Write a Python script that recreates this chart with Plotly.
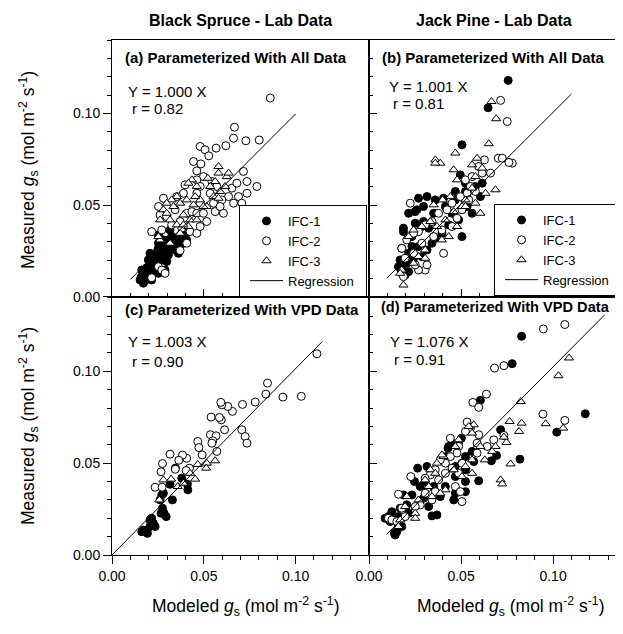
import plotly.graph_objects as go

# ---- data: (modeled gs, measured gs) pairs ----
# (a) Black spruce, parameterized with all data
a_ifc1 = [(0.0153, 0.0093), (0.0171, 0.0075), (0.0180, 0.0129), (0.0198, 0.0147), (0.0207, 0.0184),
          (0.0225, 0.0202), (0.0244, 0.0220), (0.0235, 0.0165), (0.0262, 0.0238), (0.0280, 0.0256),
          (0.0298, 0.0265), (0.0316, 0.0284), (0.0335, 0.0293), (0.0353, 0.0311), (0.0380, 0.0329),
          (0.0398, 0.0347), (0.0416, 0.0356), (0.0371, 0.0275), (0.0344, 0.0256), (0.0307, 0.0229),
          (0.0271, 0.0202), (0.0253, 0.0293), (0.0280, 0.0311), (0.0307, 0.0311), (0.0225, 0.0129),
          (0.0189, 0.0111), (0.0162, 0.0147), (0.0207, 0.0238), (0.0325, 0.0329), (0.0362, 0.0238),
          (0.0389, 0.0293), (0.0289, 0.0147), (0.0253, 0.0129), (0.0216, 0.0093), (0.0407, 0.0311),
          (0.0298, 0.0193), (0.0198, 0.0202), (0.0253, 0.0338), (0.0316, 0.0365), (0.0160, 0.0110),
          (0.0180, 0.0090), (0.0200, 0.0120), (0.0220, 0.0160), (0.0240, 0.0180), (0.0260, 0.0200),
          (0.0270, 0.0240), (0.0290, 0.0230), (0.0310, 0.0260), (0.0330, 0.0270), (0.0350, 0.0290),
          (0.0370, 0.0310), (0.0390, 0.0320), (0.0230, 0.0230), (0.0250, 0.0260), (0.0290, 0.0280),
          (0.0170, 0.0130), (0.0190, 0.0160), (0.0210, 0.0140), (0.0240, 0.0150)]
a_ifc2 = [(0.0862, 0.1084), (0.0667, 0.0925), (0.0662, 0.0865), (0.0729, 0.0851), (0.0802, 0.0855),
          (0.0620, 0.0824), (0.0567, 0.0811), (0.0480, 0.0820), (0.0507, 0.0802), (0.0527, 0.0769),
          (0.0444, 0.0738), (0.0484, 0.0725), (0.0716, 0.0684), (0.0462, 0.0687), (0.0498, 0.0656),
          (0.0462, 0.0638), (0.0398, 0.0611), (0.0480, 0.0602), (0.0544, 0.0629), (0.0571, 0.0602),
          (0.0535, 0.0565), (0.0462, 0.0565), (0.0653, 0.0593), (0.0680, 0.0620), (0.0735, 0.0629),
          (0.0789, 0.0602), (0.0735, 0.0565), (0.0689, 0.0547), (0.0635, 0.0547), (0.0598, 0.0529),
          (0.0662, 0.0511), (0.0707, 0.0511), (0.0553, 0.0511), (0.0480, 0.0511), (0.0389, 0.0565),
          (0.0353, 0.0547), (0.0280, 0.0538), (0.0253, 0.0493), (0.0262, 0.0447), (0.0298, 0.0438),
          (0.0325, 0.0393), (0.0371, 0.0411), (0.0344, 0.0475), (0.0407, 0.0456), (0.0435, 0.0465),
          (0.0462, 0.0456), (0.0498, 0.0456), (0.0516, 0.0411), (0.0562, 0.0465), (0.0607, 0.0456),
          (0.0589, 0.0493), (0.0216, 0.0356), (0.0271, 0.0365), (0.0380, 0.0375), (0.0425, 0.0356),
          (0.0462, 0.0347), (0.0480, 0.0384), (0.0371, 0.0253), (0.0407, 0.0293), (0.0253, 0.0165),
          (0.0271, 0.0147), (0.0289, 0.0129), (0.0216, 0.0105)]
a_ifc3 = [(0.0580, 0.0711), (0.0522, 0.0647), (0.0580, 0.0675), (0.0562, 0.0629), (0.0625, 0.0656),
          (0.0635, 0.0675), (0.0435, 0.0638), (0.0416, 0.0620), (0.0462, 0.0602), (0.0353, 0.0547),
          (0.0325, 0.0529), (0.0298, 0.0511), (0.0371, 0.0511), (0.0335, 0.0493), (0.0280, 0.0475),
          (0.0407, 0.0529), (0.0480, 0.0529), (0.0444, 0.0502), (0.0516, 0.0493), (0.0553, 0.0547),
          (0.0589, 0.0575), (0.0535, 0.0602), (0.0616, 0.0602), (0.0298, 0.0456), (0.0262, 0.0420),
          (0.0316, 0.0420), (0.0353, 0.0393), (0.0389, 0.0447), (0.0425, 0.0420), (0.0462, 0.0420),
          (0.0498, 0.0493), (0.0453, 0.0547), (0.0262, 0.0311), (0.0316, 0.0293), (0.0371, 0.0347),
          (0.0416, 0.0384), (0.0389, 0.0393), (0.0580, 0.0538), (0.0253, 0.0329)]

# (b) Jack pine, parameterized with all data
b_ifc1 = [(0.0756, 0.1180), (0.0647, 0.1031), (0.0505, 0.0829), (0.0496, 0.0665), (0.0505, 0.0329),
          (0.0524, 0.0575), (0.0469, 0.0529), (0.0405, 0.0538), (0.0360, 0.0529), (0.0315, 0.0547),
          (0.0269, 0.0538), (0.0260, 0.0475), (0.0250, 0.0465), (0.0296, 0.0493), (0.0215, 0.0456),
          (0.0187, 0.0375), (0.0187, 0.0356), (0.0251, 0.0402), (0.0287, 0.0384), (0.0233, 0.0329),
          (0.0269, 0.0275), (0.0215, 0.0238), (0.0178, 0.0265), (0.0169, 0.0202), (0.0205, 0.0184),
          (0.0178, 0.0147), (0.0215, 0.0138), (0.0196, 0.0120), (0.0242, 0.0211), (0.0287, 0.0220),
          (0.0315, 0.0256), (0.0342, 0.0293), (0.0396, 0.0347), (0.0433, 0.0393), (0.0451, 0.0456),
          (0.0487, 0.0420), (0.0533, 0.0493), (0.0560, 0.0456), (0.0524, 0.0620), (0.0469, 0.0575),
          (0.0615, 0.0620), (0.0605, 0.0547), (0.0578, 0.0602), (0.0415, 0.0493), (0.0351, 0.0456),
          (0.0296, 0.0411), (0.0324, 0.0375), (0.0360, 0.0320), (0.0233, 0.0275), (0.0160, 0.0165),
          (0.0196, 0.0184)]
b_ifc2 = [(0.0715, 0.1071), (0.0751, 0.0956), (0.0702, 0.0756), (0.0724, 0.0756), (0.0778, 0.0729),
          (0.0760, 0.0733), (0.0660, 0.0675), (0.0627, 0.0747), (0.0224, 0.0511), (0.0405, 0.0238),
          (0.0305, 0.0147), (0.0315, 0.0175), (0.0269, 0.0147), (0.0178, 0.0129), (0.0187, 0.0111),
          (0.0524, 0.0638), (0.0560, 0.0656), (0.0551, 0.0602), (0.0533, 0.0565), (0.0578, 0.0575),
          (0.0615, 0.0675), (0.0596, 0.0711), (0.0496, 0.0547), (0.0451, 0.0511), (0.0424, 0.0475),
          (0.0378, 0.0456), (0.0342, 0.0411), (0.0305, 0.0393), (0.0269, 0.0356), (0.0242, 0.0347),
          (0.0205, 0.0311), (0.0178, 0.0265), (0.0242, 0.0238), (0.0287, 0.0293), (0.0351, 0.0329),
          (0.0396, 0.0365), (0.0451, 0.0384), (0.0478, 0.0429), (0.0505, 0.0475), (0.0542, 0.0529),
          (0.0196, 0.0211), (0.0251, 0.0175)]
b_ifc3 = [(0.0360, 0.0747), (0.0387, 0.0729), (0.0360, 0.0729), (0.0469, 0.0784), (0.0460, 0.0693),
          (0.0587, 0.0756), (0.0651, 0.0835), (0.0665, 0.1065), (0.0691, 0.0971), (0.0560, 0.0720),
          (0.0615, 0.0702), (0.0687, 0.0584), (0.0633, 0.0565), (0.0605, 0.0456), (0.0578, 0.0511),
          (0.0524, 0.0529), (0.0478, 0.0638), (0.0442, 0.0547), (0.0400, 0.0529), (0.0351, 0.0502),
          (0.0333, 0.0411), (0.0287, 0.0384), (0.0242, 0.0365), (0.0215, 0.0329), (0.0369, 0.0384),
          (0.0415, 0.0420), (0.0460, 0.0465), (0.0505, 0.0493), (0.0433, 0.0329), (0.0396, 0.0311),
          (0.0305, 0.0256), (0.0269, 0.0220), (0.0305, 0.0211), (0.0242, 0.0184), (0.0178, 0.0147),
          (0.0169, 0.0129), (0.0187, 0.0065), (0.0560, 0.0593), (0.0524, 0.0493), (0.0478, 0.0384),
          (0.0578, 0.0656)]

# (c) Black spruce, parameterized with VPD data
c_ifc1 = [(0.0171, 0.0136), (0.0193, 0.0118), (0.0207, 0.0155), (0.0216, 0.0200), (0.0225, 0.0173),
          (0.0235, 0.0155), (0.0207, 0.0191), (0.0189, 0.0136), (0.0271, 0.0327), (0.0280, 0.0336),
          (0.0262, 0.0300), (0.0275, 0.0255), (0.0284, 0.0227), (0.0295, 0.0209), (0.0267, 0.0227),
          (0.0329, 0.0300), (0.0316, 0.0385), (0.0380, 0.0418), (0.0345, 0.0473), (0.0411, 0.0385),
          (0.0413, 0.0355), (0.0162, 0.0127)]
c_ifc2 = [(0.1116, 0.1096), (0.1031, 0.0864), (0.0931, 0.0860), (0.0847, 0.0936), (0.0838, 0.0876),
          (0.0780, 0.0833), (0.0711, 0.0820), (0.0656, 0.0782), (0.0631, 0.0809), (0.0598, 0.0818),
          (0.0593, 0.0831), (0.0595, 0.0736), (0.0585, 0.0749), (0.0540, 0.0751), (0.0613, 0.0682),
          (0.0707, 0.0682), (0.0725, 0.0645), (0.0735, 0.0609), (0.0536, 0.0655), (0.0567, 0.0649),
          (0.0549, 0.0622), (0.0544, 0.0609), (0.0571, 0.0564), (0.0467, 0.0618), (0.0473, 0.0585),
          (0.0491, 0.0545), (0.0407, 0.0527), (0.0384, 0.0544), (0.0364, 0.0516), (0.0345, 0.0467),
          (0.0316, 0.0549), (0.0275, 0.0498), (0.0267, 0.0453), (0.0235, 0.0369), (0.0273, 0.0369),
          (0.0422, 0.0473), (0.0404, 0.0460)]
c_ifc3 = [(0.0258, 0.0300), (0.0280, 0.0409), (0.0322, 0.0413), (0.0358, 0.0373), (0.0389, 0.0391),
          (0.0425, 0.0445), (0.0453, 0.0413), (0.0467, 0.0493), (0.0516, 0.0500), (0.0513, 0.0473),
          (0.0562, 0.0513)]

# (d) Jack pine, parameterized with VPD data
d_ifc1 = [(0.0829, 0.1191), (0.0778, 0.1042), (0.0605, 0.0842), (0.0715, 0.0682), (0.0820, 0.0522),
          (0.1020, 0.0669), (0.1175, 0.0769), (0.0596, 0.0404), (0.0693, 0.0542), (0.0665, 0.0513),
          (0.0502, 0.0636), (0.0487, 0.0609), (0.0429, 0.0582), (0.0420, 0.0536), (0.0469, 0.0482),
          (0.0524, 0.0536), (0.0560, 0.0564), (0.0569, 0.0509), (0.0524, 0.0464), (0.0469, 0.0427),
          (0.0524, 0.0400), (0.0524, 0.0345), (0.0460, 0.0300), (0.0469, 0.0336), (0.0415, 0.0373),
          (0.0387, 0.0318), (0.0369, 0.0218), (0.0342, 0.0213), (0.0324, 0.0264), (0.0296, 0.0309),
          (0.0315, 0.0482), (0.0264, 0.0473), (0.0247, 0.0400), (0.0233, 0.0327), (0.0187, 0.0327),
          (0.0205, 0.0273), (0.0169, 0.0255), (0.0215, 0.0227), (0.0160, 0.0209), (0.0124, 0.0236),
          (0.0115, 0.0182), (0.0133, 0.0191), (0.0138, 0.0118), (0.0142, 0.0109), (0.0151, 0.0127),
          (0.0160, 0.0164), (0.0178, 0.0155), (0.0105, 0.0209), (0.0087, 0.0200), (0.0451, 0.0609),
          (0.0433, 0.0591), (0.0351, 0.0373), (0.0305, 0.0400), (0.0278, 0.0373)]
d_ifc2 = [(0.1064, 0.1255), (0.0947, 0.1231), (0.0733, 0.1031), (0.0682, 0.1018), (0.0638, 0.0876),
          (0.0564, 0.0831), (0.0596, 0.0804), (0.0945, 0.0767), (0.1064, 0.0733), (0.0733, 0.0651),
          (0.0505, 0.0291), (0.0160, 0.0331), (0.0105, 0.0200), (0.0227, 0.0427), (0.0533, 0.0724),
          (0.0551, 0.0691), (0.0596, 0.0655), (0.0587, 0.0609), (0.0524, 0.0673), (0.0487, 0.0591),
          (0.0478, 0.0555), (0.0442, 0.0536), (0.0415, 0.0500), (0.0387, 0.0518), (0.0360, 0.0464),
          (0.0333, 0.0436), (0.0305, 0.0418), (0.0378, 0.0409), (0.0415, 0.0445), (0.0451, 0.0473),
          (0.0505, 0.0500), (0.0487, 0.0445), (0.0469, 0.0373), (0.0496, 0.0345), (0.0360, 0.0345),
          (0.0305, 0.0336), (0.0342, 0.0300), (0.0278, 0.0273), (0.0251, 0.0264), (0.0196, 0.0209),
          (0.0178, 0.0255), (0.0124, 0.0191), (0.0151, 0.0182), (0.0678, 0.0627), (0.0642, 0.0591),
          (0.0587, 0.0555), (0.0442, 0.0636)]
d_ifc3 = [(0.1087, 0.1073), (0.1029, 0.0976), (0.0824, 0.0836), (0.0764, 0.0727), (0.0829, 0.0718),
          (0.0815, 0.0673), (0.0960, 0.0715), (0.1055, 0.0691), (0.0769, 0.0496), (0.0715, 0.0409),
          (0.0724, 0.0387), (0.0747, 0.0613), (0.0733, 0.0642), (0.0687, 0.0591), (0.0669, 0.0564),
          (0.0629, 0.0518), (0.0569, 0.0709), (0.0542, 0.0700), (0.0560, 0.0664), (0.0605, 0.0591),
          (0.0560, 0.0518), (0.0524, 0.0482), (0.0560, 0.0445), (0.0505, 0.0427), (0.0460, 0.0464),
          (0.0405, 0.0536), (0.0396, 0.0545), (0.0369, 0.0500), (0.0333, 0.0464), (0.0360, 0.0445),
          (0.0305, 0.0409), (0.0415, 0.0355), (0.0387, 0.0336), (0.0342, 0.0318), (0.0324, 0.0373),
          (0.0269, 0.0300), (0.0251, 0.0227), (0.0205, 0.0318), (0.0196, 0.0264), (0.0251, 0.0200),
          (0.0169, 0.0191), (0.0160, 0.0155), (0.0469, 0.0591), (0.0487, 0.0627)]

# regression line end points
reg_a = [(0.0100, 0.0096), (0.1000, 0.0997)]
reg_b = [(0.0096, 0.0102), (0.1100, 0.1106)]
reg_c = [(0.0000, 0.0000), (0.1145, 0.1162)]
reg_d = [(0.0096, 0.0113), (0.1280, 0.1307)]

panel_titles = ["(a) Parameterized With All Data", "(b) Parameterized With All Data",
                "(c) Parameterized With VPD Data", "(d) Parameterized With VPD Data"]
equations = ["Y = 1.000 X", "Y = 1.001 X", "Y = 1.003 X", "Y = 1.076 X"]
r_values = ["r = 0.82", "r = 0.81", "r = 0.90", "r = 0.91"]
column_titles = ["Black Spruce - Lab Data", "Jack Pine - Lab Data"]
series_names = ["IFC-1", "IFC-2", "IFC-3"]

FONT = "Liberation Sans, Arial, Helvetica, sans-serif"


# pixel -> paper helpers (plot area on the page: x 112..623, y 40..555)
def px_x(v):
    return (v - 112) / 511


def px_y(v):
    return (555 - v) / 515


marker_styles = [
    dict(symbol="circle", size=8, color="black", line=dict(color="black", width=1)),
    dict(symbol="circle", size=8, color="white", line=dict(color="black", width=1)),
    dict(symbol="triangle-up", size=8, color="white", line=dict(color="black", width=1)),
]

panels = [
    dict(xa="x", ya="y", series=[a_ifc1, a_ifc2, a_ifc3], reg=reg_a, legend="legend", show=True),
    dict(xa="x2", ya="y2", series=[b_ifc1, b_ifc2, b_ifc3], reg=reg_b, legend="legend2", show=True),
    dict(xa="x3", ya="y3", series=[c_ifc1, c_ifc2, c_ifc3], reg=reg_c, legend="legend", show=False),
    dict(xa="x4", ya="y4", series=[d_ifc1, d_ifc2, d_ifc3], reg=reg_d, legend="legend", show=False),
]

fig = go.Figure()
for p in panels:
    for name, pts, style in zip(series_names, p["series"], marker_styles):
        fig.add_trace(go.Scatter(
            x=[v[0] for v in pts], y=[v[1] for v in pts],
            mode="markers", name=name, marker=style,
            xaxis=p["xa"], yaxis=p["ya"], legend=p["legend"], showlegend=p["show"],
        ))
    fig.add_trace(go.Scatter(
        x=[v[0] for v in p["reg"]], y=[v[1] for v in p["reg"]],
        mode="lines", name="Regression&nbsp;&nbsp;", line=dict(color="black", width=1),
        xaxis=p["xa"], yaxis=p["ya"], legend=p["legend"], showlegend=p["show"],
    ))


def axis(domain, rng, anchor, ticks, labels, mirror=True):
    return dict(
        domain=domain, range=rng, anchor=anchor, autorange=False,
        showline=True, linecolor="black", linewidth=1, mirror=mirror,
        showgrid=False, zeroline=False,
        tick0=0, dtick=0.05, tickformat=".2f",
        ticks=ticks, ticklen=8, tickwidth=1, tickcolor="black",
        minor=dict(dtick=0.01, ticks=ticks, ticklen=4, tickwidth=1, tickcolor="black"),
        showticklabels=labels,
        tickfont=dict(family=FONT, size=14, color="black"),
    )


xl, xr = [0, 0.503], [0.503, 1]
yb, yt = [0, 0.501], [0.501, 1]

annotations = []


def note(x, y, text, size, xanchor="center", **kw):
    annotations.append(dict(x=px_x(x), y=px_y(y), xref="paper", yref="paper", text=text,
                            xanchor=xanchor, yanchor="middle", showarrow=False,
                            font=dict(family=FONT, size=size, color="black"), **kw))


for x, txt in zip([240, 494], column_titles):
    note(x, 20, "<b>%s</b>" % txt, 16)

title_pos = [(123, 57), (380, 57), (123, 309), (379, 307)]
eq_pos = [(126, 91), (387, 86), (126, 341), (388, 341)]
r_pos = [(130, 109), (391, 104), (130, 361), (392, 359)]
for i in range(4):
    note(title_pos[i][0], title_pos[i][1], "<b>%s</b>" % panel_titles[i], 15 if i < 3 else 14.6,
         xanchor="left")
    note(eq_pos[i][0], eq_pos[i][1], equations[i], 15, xanchor="left")
    note(r_pos[i][0], r_pos[i][1], r_values[i], 15, xanchor="left")

gs = "<i>g</i><sub>s</sub> (mol m<sup>-2</sup> s<sup>-1</sup>)"
for x in [245, 510]:
    note(x, 606, "Modeled " + gs, 17.5)
for y in [170, 426]:
    note(28, y, "Measured " + gs, 17.5, textangle=-90)

legend_style = dict(xanchor="left", yanchor="top", bgcolor="white", bordercolor="black",
                    borderwidth=1, font=dict(family=FONT, size=13, color="black"),
                    tracegroupgap=0, itemwidth=33, indentation=5)

# the page body adds an 8 px offset, so the figure is drawn 8 px smaller
fig.update_layout(
    width=615, height=626,
    margin=dict(l=104, r=0, t=32, b=79),
    paper_bgcolor="white", plot_bgcolor="white",
    font=dict(family=FONT, size=14, color="black"),
    xaxis=axis(xl, [0, 0.14], "y", "inside", False),
    yaxis=axis(yt, [0, 0.14], "x", "outside", True),
    xaxis2=axis(xr, [0, 0.138], "y2", "inside", False),
    yaxis2=axis(yt, [0, 0.14], "x2", "inside", False, mirror=False),
    xaxis3=axis(xl, [0, 0.14], "y3", "outside", True),
    yaxis3=axis(yb, [0, 0.1405], "x3", "outside", True),
    xaxis4=axis(xr, [0, 0.138], "y4", "outside", True),
    yaxis4=axis(yb, [0, 0.1405], "x4", "inside", False, mirror=False),
    legend=dict(x=px_x(239), y=px_y(205), **legend_style),
    legend2=dict(x=px_x(494), y=px_y(204), **legend_style),
    annotations=annotations,
    showlegend=True,
)

fig.write_html("out.html")
